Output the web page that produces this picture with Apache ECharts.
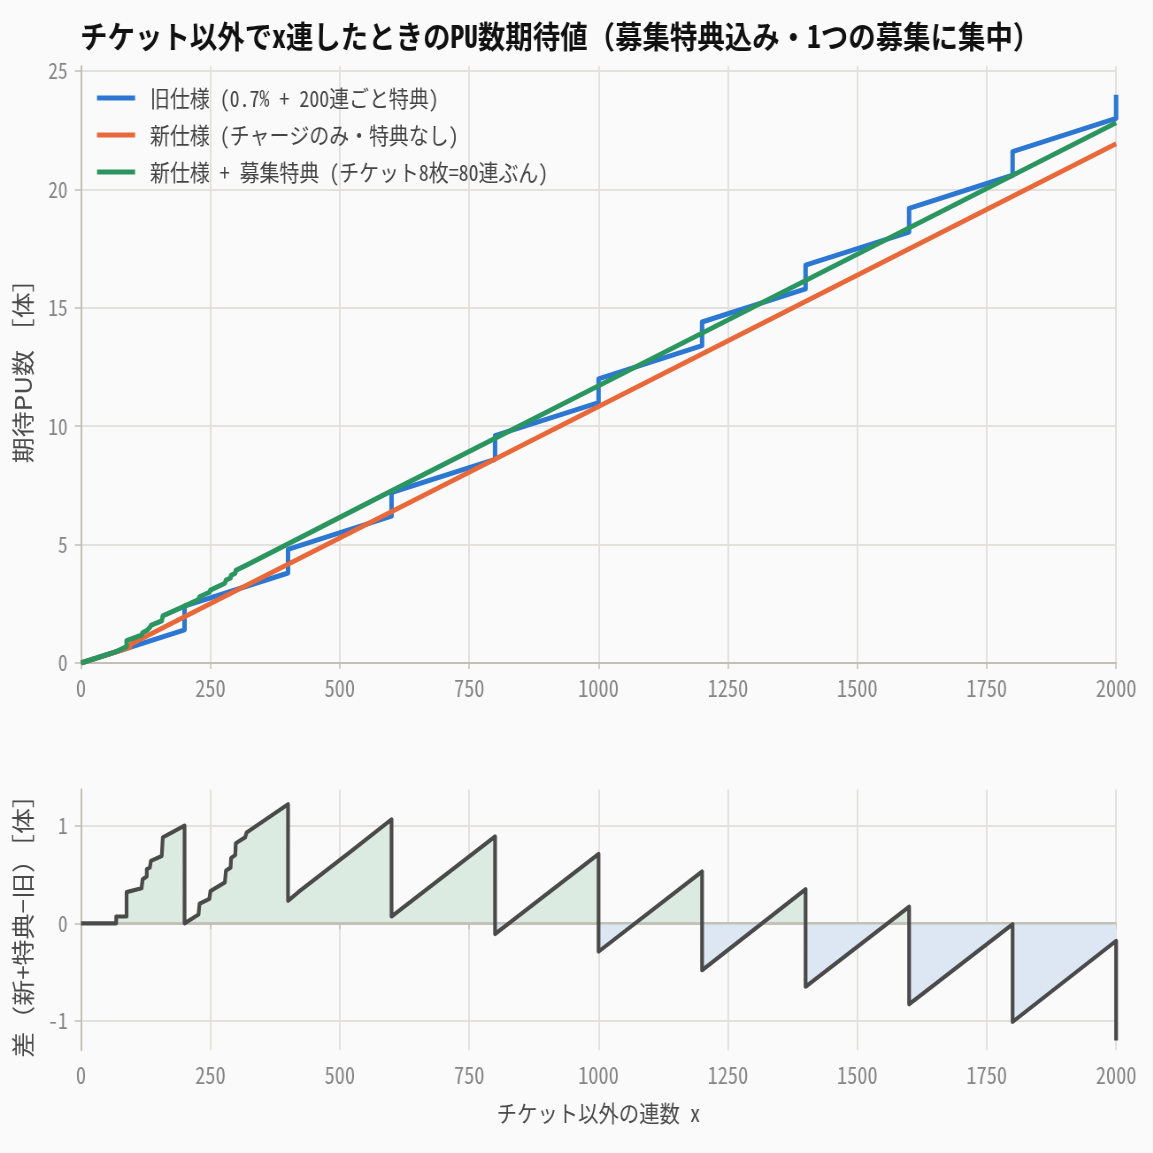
<!DOCTYPE html>
<html>
<head>
<meta charset="utf-8">
<script src="https://cdn.jsdelivr.net/npm/echarts@6/dist/echarts.min.js"></script>
<style>
html, body { margin: 0; padding: 0; overflow: hidden; background: #fafafa; }
#wrap { width: 1153px; height: 1153px; overflow: hidden; background: #fafafa; }
#main { height: 1153px; transform-origin: 0 0; }
</style>
</head>
<body>
<div id="wrap"><div id="main"></div></div>
<script>
// 旧仕様: 0.7% + 200連ごと特典
var oldSpec = [[0,0],[200,1.4],[200,2.4],[400,3.8],[400,4.8],[600,6.2],[600,7.2],[800,8.6],[800,9.6],
  [1000,11],[1000,12],[1200,13.4],[1200,14.4],[1400,15.8],[1400,16.8],[1600,18.2],[1600,19.2],
  [1800,20.6],[1800,21.6],[2000,23],[2000,24]];
// 新仕様 (チャージのみ)
var newSpec = [[0,0],[95,0.66],[95,0.78],[200,1.95],[400,4.17],[1000,10.83],[2000,21.93]];
// 新仕様 + 募集特典
var newBonus = [[0,0],[68,0.48],[68,0.55],[88,0.69],[88,0.94],[117,1.18],[119,1.28],[127,1.37],[127,1.44],
  [133,1.50],[135,1.59],[156,1.78],[158,1.99],[200,2.40],[227,2.68],[229,2.80],[248,2.99],[250,3.08],
  [278,3.37],[280,3.50],[289,3.59],[290,3.70],[298,3.79],[299,3.91],[317,4.10],[320,4.17],
  [600,7.27],[1000,11.71],[1400,16.15],[2000,22.82]];
// 差（新+特典−旧）
var diff = [[0,0],[68,0],[68,0.07],[88,0.07],[88,0.32],[117,0.36],[119,0.45],[127,0.48],[127,0.555],
  [133,0.57],[135,0.64],[156,0.69],[158,0.88],[200,1.0],[200,0],[227,0.09],[229,0.2],[248,0.25],
  [250,0.33],[278,0.42],[280,0.54],[289,0.57],[290,0.67],[298,0.70],[299,0.82],[317,0.88],[320,0.93],
  [400,1.22],[400,0.23],[420,0.32],[520,0.73],[600,1.065],[600,0.07],[800,0.89],[800,-0.11],
  [1000,0.71],[1000,-0.29],[1200,0.53],[1200,-0.48],[1400,0.35],[1400,-0.65],[1600,0.17],[1600,-0.83],
  [1800,-0.01],[1800,-1.01],[2000,-0.18],[2000,-1.2]];
var topYTicks = [0,5,10,15,20,25];
var diffYTicks = [-1,0,1];
var seriesNames = ['旧仕様 (0.7% + 200連ごと特典)', '新仕様 (チャージのみ・特典なし)', '新仕様 + 募集特典 (チケット8枚=80連ぶん)'];

// 横方向を少し詰めて描く
var K = 1.13;
var W = 1153 * K;
var el = document.getElementById('main');
el.style.width = W + 'px';
el.style.transform = 'scaleX(' + (1153 / W) + ')';

var FONT = "'Noto Sans Mono CJK JP', 'Noto Sans CJK JP', 'DejaVu Sans Mono', monospace";
var FONT_P = "'Noto Sans CJK JP', 'Noto Sans', sans-serif";
var axisCol = '#c2bfb6';
var gridCol = '#e2e1dc';
var labelCol = '#858585';

var plotL = 81 * K, plotR = W - 1116 * K;
var topTop = 66.3, topH = 663 - 66.3;
var botTop = 789.6, botH = 1050.2 - 789.6;
var dMin = -1.3, dMax = 1.37;
var zeroY = botTop + dMax / (dMax - dMin) * botH;
var zf = zeroY / 1153;

var fill = new echarts.graphic.LinearGradient(0, 0, 0, 1153, [
  {offset: 0, color: '#dcebe1'}, {offset: zf, color: '#dcebe1'},
  {offset: zf, color: '#dce7f3'}, {offset: 1, color: '#dce7f3'}], true);

function xAx(idx) {
  return {
    type: 'value', gridIndex: idx, min: 0, max: 2000, interval: 250,
    axisLine: {lineStyle: {color: axisCol, width: 2}},
    axisTick: {show: true, length: 6, lineStyle: {color: axisCol, width: 1.5}},
    axisLabel: {color: labelCol, fontSize: 23, fontFamily: FONT, margin: 14, showMinLabel: true, showMaxLabel: true,
      formatter: function (v) { return String(v); }},
    splitLine: {show: true, lineStyle: {color: gridCol, width: 2}}
  };
}

var myChart = echarts.init(el);
myChart.setOption({
  backgroundColor: '#fafafa',
  animation: false,
  textStyle: {fontFamily: FONT},
  title: {
    text: 'チケット以外でx連したときのPU数期待値（募集特典込み・1つの募集に集中）',
    left: 80 * K, top: 18, padding: 0,
    textStyle: {fontSize: 31, fontWeight: 'bold', color: '#111', fontFamily: FONT, lineHeight: 36}
  },
  legend: {
    data: seriesNames, orient: 'vertical', left: 109.6, top: 85, padding: 0,
    icon: 'rect', itemWidth: 43, itemHeight: 5, itemGap: 11,
    textStyle: {fontSize: 22.5, color: '#444', fontFamily: FONT, lineHeight: 26, padding: [0, 0, 0, 12]}
  },
  grid: [
    {left: plotL, right: plotR, top: topTop, height: topH},
    {left: plotL, right: plotR, top: botTop, height: botH}
  ],
  xAxis: [
    xAx(0),
    Object.assign(xAx(1), {
      name: 'チケット以外の連数 x', nameLocation: 'middle', nameGap: 52,
      nameTextStyle: {fontSize: 23, color: '#4a4a4a', fontFamily: FONT}
    })
  ],
  yAxis: [
    {
      type: 'value', gridIndex: 0, min: 0, max: 25.2,
      name: '期待PU数 ［体］', nameLocation: 'middle', nameRotate: 90, nameGap: 52,
      nameTextStyle: {fontSize: 26, color: '#4a4a4a', fontFamily: FONT_P},
      axisLine: {show: true, lineStyle: {color: axisCol, width: 2}},
      axisTick: {show: true, length: 7, customValues: topYTicks, lineStyle: {color: axisCol, width: 1.5}},
      axisLabel: {color: labelCol, fontSize: 22, fontFamily: FONT, margin: 15, customValues: topYTicks},
      splitLine: {show: true, lineStyle: {color: gridCol, width: 2}}
    },
    {
      type: 'value', gridIndex: 1, min: dMin, max: dMax,
      name: '差（新+特典−旧）［体］', nameLocation: 'middle', nameRotate: 90, nameGap: 52,
      nameTextStyle: {fontSize: 26, color: '#4a4a4a', fontFamily: FONT_P},
      axisLine: {show: true, onZero: false, lineStyle: {color: axisCol, width: 2}},
      axisTick: {show: true, length: 7, customValues: diffYTicks, lineStyle: {color: axisCol, width: 1.5}},
      axisLabel: {color: labelCol, fontSize: 22, fontFamily: FONT, margin: 15, customValues: diffYTicks},
      splitLine: {show: true, lineStyle: {color: gridCol, width: 2}}
    }
  ],
  series: [
    {name: seriesNames[0], type: 'line', xAxisIndex: 0, yAxisIndex: 0, data: oldSpec, symbol: 'none',
      color: '#2b77d2', lineStyle: {width: 5, join: 'round'}},
    {name: seriesNames[1], type: 'line', xAxisIndex: 0, yAxisIndex: 0, data: newSpec, symbol: 'none',
      color: '#e8683a', lineStyle: {width: 5, join: 'round'}},
    {name: seriesNames[2], type: 'line', xAxisIndex: 0, yAxisIndex: 0, data: newBonus, symbol: 'none',
      color: '#2b9560', lineStyle: {width: 5, join: 'round'}},
    // 差の塗り
    {name: 'diffArea', type: 'line', xAxisIndex: 1, yAxisIndex: 1, data: diff, symbol: 'none', z: 1,
      silent: true, lineStyle: {width: 0}, areaStyle: {color: fill, opacity: 1, origin: 0}},
    {name: 'zero', type: 'line', xAxisIndex: 1, yAxisIndex: 1, data: [[0, 0], [2000, 0]], symbol: 'none', z: 2,
      silent: true, color: '#c4c1b7', lineStyle: {width: 2.5}},
    {name: 'diffLine', type: 'line', xAxisIndex: 1, yAxisIndex: 1, data: diff, symbol: 'none', z: 3,
      color: '#4a4a4a', lineStyle: {width: 4.2, join: 'round'}}
  ]
});
</script>
</body>
</html>
